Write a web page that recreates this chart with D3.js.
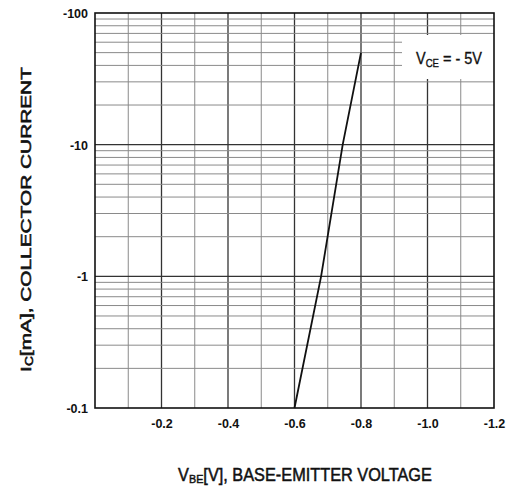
<!DOCTYPE html>
<html><head><meta charset="utf-8">
<script src="https://cdn.jsdelivr.net/npm/d3@7"></script>
<style>body{margin:0;background:#fff}svg{display:block}</style>
</head><body>
<svg id="c" width="507" height="488"></svg>
<script>
const xTicks = [0.2, 0.4, 0.6, 0.8, 1.0, 1.2];
const xTickLabels = ["-0.2", "-0.4", "-0.6", "-0.8", "-1.0", "-1.2"];
const yTicks = [0.1, 1, 10, 100];
const yTickLabels = ["-0.1", "-1", "-10", "-100"];
const curveVbe = [0.6, 0.68, 0.745, 0.8];
const curveIc = [0.1, 1, 10, 50];

const FONT = "Liberation Sans, Arial, sans-serif";
const svg = d3.select("#c");
const L = 95, R = 494, T = 13, B = 408;
const x = d3.scaleLinear().domain([0, 1.2]).range([L, R]);
const y = d3.scaleLog().domain([0.1, 100]).range([B, T]);

// grid
const g = svg.append("g");
d3.range(1, 12).map(i => i / 10).forEach(v => {
  const major = Math.round(v * 10) % 2 === 0;
  g.append("line").attr("x1", x(v)).attr("x2", x(v)).attr("y1", T).attr("y2", B)
    .attr("stroke", major ? "#333" : "#8a8a8a").attr("stroke-width", major ? 1.3 : 1);
});
const minorY = [];
[0.1, 1, 10].forEach(d => { for (let k = 2; k <= 9; k++) minorY.push(d * k); });
minorY.forEach(v => {
  g.append("line").attr("x1", L).attr("x2", R).attr("y1", y(v)).attr("y2", y(v))
    .attr("stroke", "#8a8a8a").attr("stroke-width", 1);
});
[1, 10].forEach(v => {
  g.append("line").attr("x1", L).attr("x2", R).attr("y1", y(v)).attr("y2", y(v))
    .attr("stroke", "#333").attr("stroke-width", 1.3);
});

// legend box (white, covers grid)
svg.append("rect").attr("x", 402).attr("y", 35).attr("width", R - 402).attr("height", 44).attr("fill", "#fff");

// frame
svg.append("rect").attr("x", L).attr("y", T).attr("width", R - L).attr("height", B - T)
  .attr("fill", "none").attr("stroke", "#111").attr("stroke-width", 1.6);

// curve
const line = d3.line().x((d, i) => x(curveVbe[i])).y((d, i) => y(curveIc[i]));
svg.append("path").datum(curveVbe).attr("d", line).attr("fill", "none")
  .attr("stroke", "#111").attr("stroke-width", 1.8);

// axes
const xAxis = d3.axisBottom(x).tickValues(xTicks).tickSize(0)
  .tickFormat((d, i) => xTickLabels[i]);
const xa = svg.append("g").attr("transform", `translate(0,${B})`).call(xAxis);
xa.select(".domain").remove();
xa.selectAll("text").attr("dy", "0").attr("y", 20)
  .attr("font-family", FONT).attr("font-size", 12.5)
  .attr("font-weight", "bold").attr("fill", "#111");

const yAxis = d3.axisLeft(y).tickValues(yTicks).tickSize(0)
  .tickFormat((d, i) => yTickLabels[i]);
const ya = svg.append("g").attr("transform", `translate(${L},0)`).call(yAxis);
ya.select(".domain").remove();
ya.selectAll("text").attr("x", -7).attr("dy", "0.35em")
  .attr("font-family", FONT).attr("font-size", 12.5)
  .attr("font-weight", "bold").attr("fill", "#111");

// stretched text helper
function label(cx, cy, rot, parts, size, weight, targetW, sy, strokeW) {
  const gg = svg.append("g").attr("transform", `translate(${cx},${cy}) rotate(${rot})`);
  const t = gg.append("text").attr("text-anchor", "middle").attr("font-family", FONT)
    .attr("font-size", size).attr("font-weight", weight).attr("fill", "#111");
  if (strokeW) t.attr("stroke", "#111").attr("stroke-width", strokeW);
  parts.forEach(p => {
    const s = t.append("tspan").text(p.t);
    if (p.sub) s.attr("font-size", size * 0.66).attr("dy", 2);
    if (p.up) s.attr("dy", -2);
  });
  const w = t.node().getComputedTextLength();
  t.attr("transform", `scale(${targetW / w},${sy})`);
}

label(449, 64.3, 0, [{t: "V"}, {t: "CE", sub: true}, {t: " = - 5V", up: true}], 14, "normal", 66, 1.16, 0.3);
label(305, 481, 0, [{t: "V"}, {t: "BE", sub: true}, {t: "[V], BASE-EMITTER VOLTAGE", up: true}], 16, "normal", 254, 1.1, 0.45);
label(31, 219.5, -90, [{t: "I"}, {t: "C", sub: true}, {t: "[mA], COLLECTOR CURRENT", up: true}], 15.5, "normal", 305, 1.0, 0.55);
</script>
</body></html>
